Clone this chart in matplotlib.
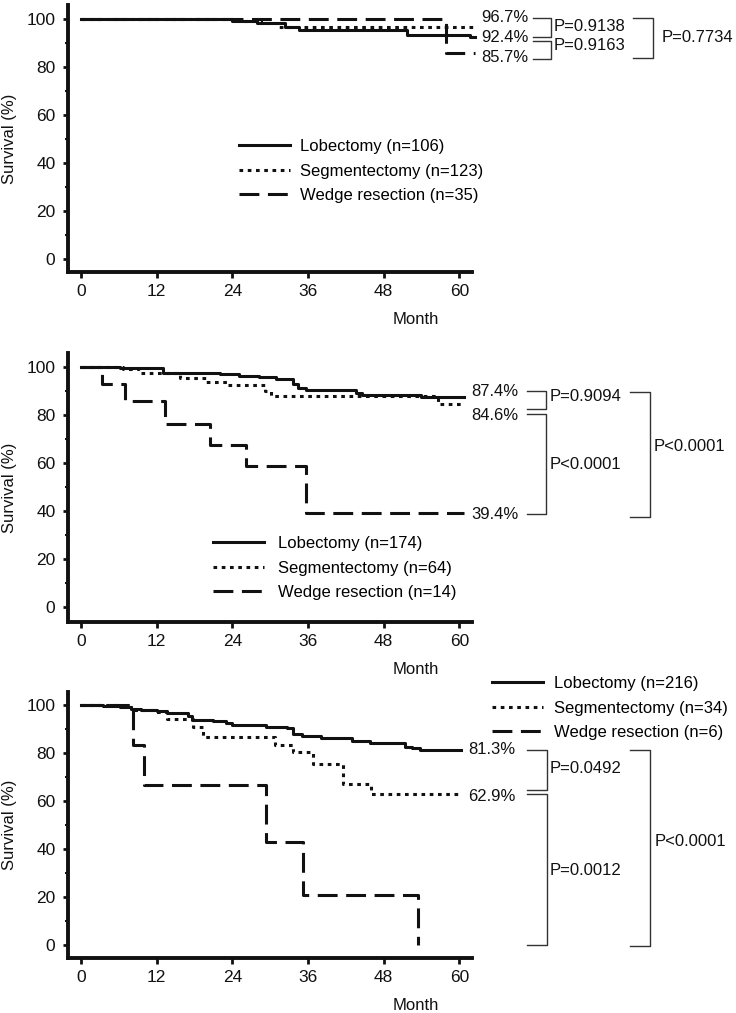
import matplotlib
matplotlib.use("Agg")
import matplotlib.pyplot as plt
from matplotlib.lines import Line2D

# ---- data (months, survival %) ----
month_ticks = [0, 12, 24, 36, 48, 60]
surv_ticks = [0, 20, 40, 60, 80, 100]
surv_minor = [10, 30, 50, 70, 90]

p1_lob_t = [0, 23.9, 27.9, 32.4, 34.5, 51.7, 61.7, 62.5]
p1_lob_s = [100, 99.2, 98.4, 96.8, 95.6, 93.5, 92.4, 92.4]
p1_seg_t = [0, 25.0, 28.5, 31.2, 62.5]
p1_seg_s = [100, 99.2, 98.3, 96.7, 96.7]
p1_wed_t = [0, 57.8, 62.5]
p1_wed_s = [100, 85.7, 85.7]
p1_names = ["Lobectomy (n=106)", "Segmentectomy (n=123)", "Wedge resection (n=35)"]

p2_lob_t = [0, 6.2, 13.0, 22.0, 25.0, 28.3, 31.0, 33.6, 34.4, 35.7, 43.6, 44.5, 53.9, 60.8]
p2_lob_s = [100, 99.5, 97.6, 96.8, 96.2, 95.6, 94.7, 92.8, 91.3, 90.3, 89.2, 88.2, 87.4, 87.4]
p2_seg_t = [0, 6.7, 9.3, 15.7, 19.9, 23.1, 29.1, 30.2, 56.6, 60.8]
p2_seg_s = [100, 99.0, 97.2, 95.2, 93.8, 92.4, 89.9, 87.8, 84.6, 84.6]
p2_wed_t = [0, 3.4, 7.0, 13.4, 20.5, 26.1, 35.7, 60.8]
p2_wed_s = [100, 92.9, 85.7, 76.2, 67.5, 58.6, 39.4, 39.4]
p2_names = ["Lobectomy (n=174)", "Segmentectomy (n=64)", "Wedge resection (n=14)"]

p3_lob_t = [0, 3.5, 6.2, 8.0, 9.5, 12.0, 13.6, 17.0, 17.6, 21.0, 23.0, 24.0, 29.4, 32.6,
            33.6, 35.0, 38.0, 42.9, 45.8, 51.3, 52.5, 53.7, 60.3]
p3_lob_s = [100, 99.5, 99.0, 98.5, 98.0, 97.5, 96.8, 95.2, 93.8, 93.2, 92.6, 91.7, 91.0, 90.2,
            87.8, 87.1, 86.1, 85.0, 84.3, 82.6, 82.0, 81.3, 81.3]
p3_seg_t = [0, 6.2, 8.3, 11.5, 13.6, 17.8, 19.4, 30.7, 33.6, 36.8, 41.5, 46.0, 60.3]
p3_seg_s = [100, 99.0, 97.9, 97.1, 94.0, 90.7, 86.8, 83.3, 80.5, 75.4, 67.0, 62.9, 62.9]
p3_wed_t = [0, 8.3, 10.0, 29.4, 35.2, 53.4]
p3_wed_s = [100, 83.3, 66.7, 43.0, 21.0, 0]
p3_names = ["Lobectomy (n=216)", "Segmentectomy (n=34)", "Wedge resection (n=6)"]

p1_pct = ["96.7%", "92.4%", "85.7%"]
p1_pvals = ["P=0.9138", "P=0.9163", "P=0.7734"]
p2_pct = ["87.4%", "84.6%", "39.4%"]
p2_pvals = ["P=0.9094", "P<0.0001", "P<0.0001"]
p3_pct = ["81.3%", "62.9%"]
p3_pvals = ["P=0.0492", "P=0.0012", "P<0.0001"]

plt.rcParams["font.family"] = ["Liberation Sans", "DejaVu Sans"]
plt.rcParams["font.size"] = 12

W, H = 736, 1013
INK = "#111111"
LW = 2.2
DASH = (6.5, 2.8)
DOT = (1.2, 1.5)


def fx(x):
    return x / W


def fy(y):
    return 1 - y / H


def label(fig, x, y, s):
    fig.text(fx(x), fy(y), s, ha="left", va="center", fontsize=12, color=INK)


def bracket(fig, x0, x1, y0, y1):
    fig.add_artist(Line2D([fx(x0), fx(x1), fx(x1), fx(x0)],
                          [fy(y0), fy(y0), fy(y1), fy(y1)],
                          transform=fig.transFigure, color="#333333", lw=1.0))


def survival_panel(fig, rect, ylim, curves, names, leg_anchor, leg_pad, ylab_y):
    ax = fig.add_axes(rect)
    (lt, ls), (st, ss), (wt, ws) = curves
    h_wed, = ax.step(wt, ws, where="post", color=INK, lw=LW, dashes=DASH,
                     solid_capstyle="butt", dash_capstyle="butt", clip_on=False)
    h_seg, = ax.step(st, ss, where="post", color=INK, lw=LW, dashes=DOT,
                     dash_capstyle="butt", clip_on=False)
    h_lob, = ax.step(lt, ls, where="post", color=INK, lw=LW, clip_on=False)

    ax.set_xlim(-2.06, 62.0)
    ax.set_ylim(*ylim)
    ax.set_xticks(month_ticks)
    ax.set_yticks(surv_ticks)
    ax.set_yticks(surv_minor, minor=True)
    for side in ["top", "right"]:
        ax.spines[side].set_visible(False)
    for side in ["left", "bottom"]:
        ax.spines[side].set_linewidth(2.8)
        ax.spines[side].set_color(INK)
    ax.tick_params(axis="x", length=4.5, width=2.0, pad=4, labelsize=12.5, colors=INK)
    ax.tick_params(axis="y", which="major", length=3.5, width=2.0, pad=5.5,
                   labelsize=12.5, colors=INK)
    ax.tick_params(axis="y", which="minor", length=2.0, width=1.5, colors=INK)

    ax.set_ylabel("Survival (%)", fontsize=12, color=INK)
    ax.yaxis.set_label_coords(-0.125, ylab_y)
    ax.set_xlabel("Month", fontsize=12, color=INK)
    ax.xaxis.label.set_va("center")
    ax.xaxis.set_label_coords(0.86, -0.177)

    ax.legend([h_lob, h_seg, h_wed], names, loc="upper left",
              bbox_to_anchor=(fx(leg_anchor[0]), fy(leg_anchor[1])),
              bbox_transform=fig.transFigure, frameon=False, borderpad=0,
              borderaxespad=0, handlelength=3.06, handletextpad=leg_pad,
              labelspacing=0.58, fontsize=12)
    return ax


fig = plt.figure(figsize=(W / 100, H / 100), dpi=100)

left = 68 / W
width = (472 - 68) / W

survival_panel(fig, [left, (H - 272) / H, width, 267 / H], (-5.42, 105.83),
               [(p1_lob_t, p1_lob_s), (p1_seg_t, p1_seg_s), (p1_wed_t, p1_wed_s)],
               p1_names, (239, 139.0), 0.6, 0.5)
survival_panel(fig, [left, (H - 621.7) / H, width, 268.7 / H], (-5.9, 105.7),
               [(p2_lob_t, p2_lob_s), (p2_seg_t, p2_seg_s), (p2_wed_t, p2_wed_s)],
               p2_names, (213, 536.0), 0.84, 0.5)
survival_panel(fig, [left, 55 / H, width, 266 / H], (-5.42, 105.4),
               [(p3_lob_t, p3_lob_s), (p3_seg_t, p3_seg_s), (p3_wed_t, p3_wed_s)],
               p3_names, (491.7, 676.0), 0.7, 0.5)

# panel 1 annotations
for s, y in zip(p1_pct, [17.5, 37, 57.5]):
    label(fig, 481.5, y, s)
bracket(fig, 532.7, 551, 18.5, 37.5)
bracket(fig, 532.7, 551, 41.5, 59.5)
bracket(fig, 633, 653, 18.5, 58.5)
label(fig, 554, 26.5, p1_pvals[0])
label(fig, 554, 46, p1_pvals[1])
label(fig, 661.7, 37, p1_pvals[2])

# panel 2 annotations
for s, y in zip(p2_pct, [391.7, 415, 514.3]):
    label(fig, 471.7, y, s)
bracket(fig, 526.7, 545.7, 391, 409.3)
bracket(fig, 526.7, 545.7, 414.3, 514.3)
bracket(fig, 630, 650, 392.3, 516.7)
label(fig, 550, 396.7, p2_pvals[0])
label(fig, 550, 464, p2_pvals[1])
label(fig, 653.3, 446, p2_pvals[2])

# panel 3 annotations
for s, y in zip(p3_pct, [750, 796.7]):
    label(fig, 468.3, y, s)
bracket(fig, 526.7, 546.7, 750, 790)
bracket(fig, 526.7, 546.7, 794.3, 945)
bracket(fig, 630, 650, 750, 946)
label(fig, 550, 768.3, p3_pvals[0])
label(fig, 550, 870, p3_pvals[1])
label(fig, 655, 841.7, p3_pvals[2])

fig.savefig("out.png", dpi=100)
